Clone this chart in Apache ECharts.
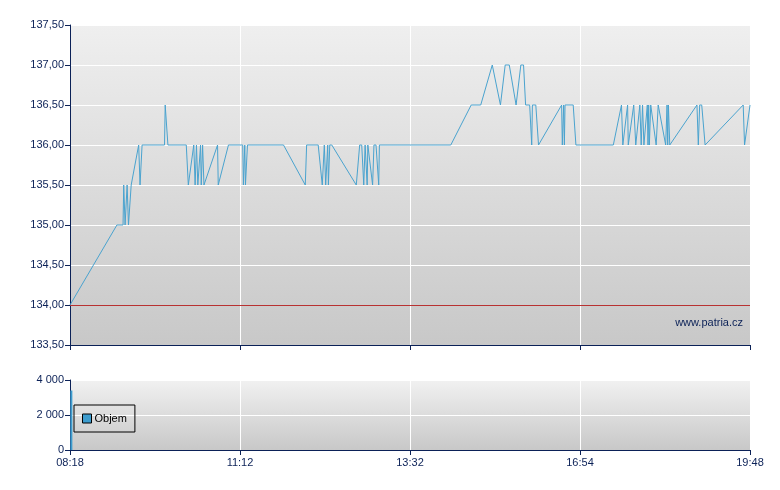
<!DOCTYPE html>
<html>
<head>
<meta charset="utf-8">
<script src="https://cdn.jsdelivr.net/npm/echarts@6/dist/echarts.min.js"></script>
<style>html,body{margin:0;padding:0;background:#fff}#c{width:780px;height:490px}</style>
</head>
<body>
<div id="c"></div>
<script>
// Session position (0 = open 08:18, 100 = close 19:48) of each trade
var sessionPos = [0,6.9,7.8,7.9,8.1,8.3,8.4,8.6,8.8,9.0,10.1,10.3,10.6,13.9,14.0,14.1,14.4,17.1,17.4,18.2,18.4,18.6,18.8,19.2,19.3,19.5,19.7,21.7,21.8,23.3,25.4,25.5,25.7,25.8,26.1,31.4,34.6,34.8,36.5,37.1,37.4,37.6,37.9,38.0,38.2,38.5,42.1,42.6,42.9,43.2,43.4,43.7,43.8,44.5,44.7,45.0,45.4,45.5,56.0,59.0,60.4,62.1,63.3,64.0,64.6,65.6,66.3,66.7,67.0,67.6,67.9,68.0,68.5,68.9,72.3,72.4,72.6,72.7,72.8,74.0,74.4,79.9,81.1,81.3,82.0,82.1,82.9,83.2,83.8,84.0,84.2,84.4,84.9,85.0,85.1,85.2,85.4,86.2,86.5,87.6,87.8,87.9,88.0,88.2,92.2,92.4,92.6,92.9,93.4,99.0,99.2,100];
var prices = [134,135,135,135.5,135,135,135.5,135,135,135.5,136,135.5,136,136,136.5,136.5,136,136,135.5,136,135.5,136,135.5,136,135.5,136,135.5,136,135.5,136,136,135.5,136,135.5,136,136,135.5,136,136,135.5,136,135.5,136,135.5,136,136,135.5,136,136,135.5,136,135.5,136,135.5,136,136,135.5,136,136,136.5,136.5,137,136.5,137,137,136.5,137,137,136.5,136.5,136,136.5,136.5,136,136.5,136,136.5,136,136.5,136.5,136,136,136.5,136,136.5,136,136.5,136,136.5,136,136.5,136,136.5,136,136.5,136,136.5,136,136.5,136,136.5,136,136.5,136,136.5,136,136.5,136.5,136,136.5,136,136.5];
var volumePos = [0.2];
var volumes = [3400];
var referencePrice = 134;
var tickPos = [0,25,50,75,100];
var timeLabels = ['08:18','11:12','13:32','16:54','19:48'];

var navy = '#0b2157';
var font = 'Liberation Sans, Arial, sans-serif';
function bg(top, bottom){
  return new echarts.graphic.LinearGradient(0,0,0,1,[{offset:0,color:top},{offset:1,color:bottom}]);
}
function fmtPrice(v){ return v.toFixed(2).replace('.', ','); }
function fmtVol(v){ return String(v).replace(/\B(?=(\d{3})+(?!\d))/g, ' '); }
function fmtTime(v){ var i = tickPos.indexOf(v); return i >= 0 ? timeLabels[i] : ''; }

var chart = echarts.init(document.getElementById('c'), null, {renderer:'canvas'});
chart.setOption({
  animation: false,
  backgroundColor: '#ffffff',
  textStyle: {fontFamily: font},
  grid: [
    {left:70, top:25, width:680, height:320, show:true, borderWidth:0, backgroundColor: bg('#efefef','#c8c8c8')},
    {left:70, top:380, width:680, height:70, show:true, borderWidth:0, backgroundColor: bg('#f1f1f1','#c8c8c8')}
  ],
  legend: {
    data: ['Objem'],
    left: 74, top: 405,
    orient: 'vertical',
    padding: [8, 8, 8, 8],
    borderColor: '#000', borderWidth: 1,
    itemWidth: 9, itemHeight: 9, itemGap: 0,
    icon: 'rect',
    itemStyle: {borderColor:'#000', borderWidth:1},
    textStyle: {color:'#000', fontSize:11, fontFamily: font, padding:[0,0,0,-2]}
  },
  xAxis: [
    {type:'value', gridIndex:0, min:0, max:100, interval:25,
     axisLine:{show:true, onZero:false, lineStyle:{color:navy, width:1}},
     axisTick:{show:true, length:5, lineStyle:{color:navy}},
     axisLabel:{show:false},
     splitLine:{show:true, lineStyle:{color:'#ffffff', width:1}}},
    {type:'value', gridIndex:1, min:0, max:100, interval:25,
     axisLine:{show:true, onZero:false, lineStyle:{color:navy, width:1}},
     axisTick:{show:true, length:5, lineStyle:{color:navy}},
     axisLabel:{show:true, color:navy, fontSize:11, fontFamily:font, margin:7, formatter: fmtTime},
     splitLine:{show:true, lineStyle:{color:'#ffffff', width:1}}}
  ],
  yAxis: [
    {type:'value', gridIndex:0, min:133.5, max:137.5, interval:0.5,
     axisLine:{show:true, lineStyle:{color:navy, width:1}},
     axisTick:{show:true, length:5, lineStyle:{color:navy}},
     axisLabel:{color:navy, fontSize:11, fontFamily:font, margin:6, formatter: fmtPrice},
     splitLine:{show:true, lineStyle:{color:'#ffffff', width:1}}},
    {type:'value', gridIndex:1, min:0, max:4000, interval:2000,
     axisLine:{show:true, lineStyle:{color:navy, width:1}},
     axisTick:{show:true, length:5, lineStyle:{color:navy}},
     axisLabel:{color:navy, fontSize:11, fontFamily:font, margin:6, formatter: fmtVol},
     splitLine:{show:true, lineStyle:{color:'#ffffff', width:1}}}
  ],
  series: [
    {name:'Cena', type:'line', xAxisIndex:0, yAxisIndex:0, symbol:'none',
     lineStyle:{color:'#4aa3cf', width:1}, itemStyle:{color:'#4aa3cf'},
     data: sessionPos.map(function(p,i){ return [p, prices[i]]; }),
     markLine:{silent:true, symbol:'none', label:{show:false},
       lineStyle:{color:'#b83232', width:1, type:'solid'},
       data:[{yAxis: referencePrice}]}},
    {name:'Objem', type:'bar', xAxisIndex:1, yAxisIndex:1, barWidth:2,
     itemStyle:{color:'#3d9dcf'},
     data: volumePos.map(function(p,i){ return [p, volumes[i]]; })}
  ],
  graphic: [
    {type:'text', right:37, top:317, style:{text:'www.patria.cz', fill:navy, font:'11px '+font}}
  ]
});
</script>
</body>
</html>
